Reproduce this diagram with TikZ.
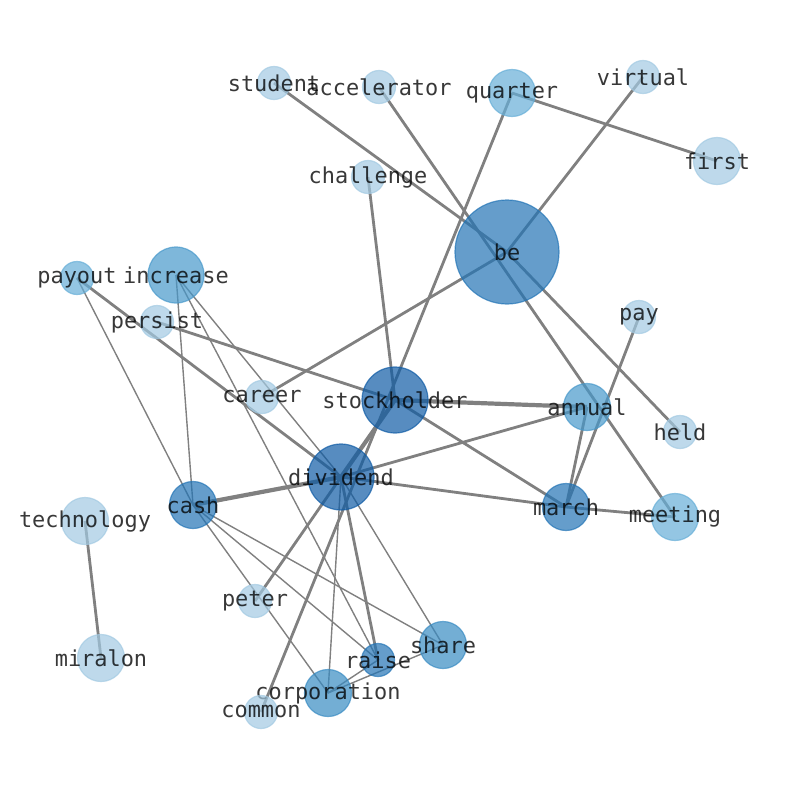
\documentclass[tikz,border=0pt]{standalone}
\usepackage{fontspec}
\setmonofont{DejaVu Sans Mono}
\usepackage{xcolor}
\definecolor{edgegray}{RGB}{128,128,128}
\definecolor{pale}{RGB}{162,201,226}
\definecolor{sky}{RGB}{102,174,215}
\definecolor{midblue}{RGB}{71,152,202}
\definecolor{deepblue}{RGB}{56,139,194}
\definecolor{darkblue}{RGB}{35,116,181}
\definecolor{navy}{RGB}{15,91,165}
\pgfdeclarelayer{background}
\pgfsetlayers{background,main}

\begin{document}
\begin{tikzpicture}[x=1bp,y=-1bp]
  \tikzset{vertex/.style={circle,inner sep=0pt,draw=#1,fill=#1,fill opacity=0.7,draw opacity=0.7,line width=1.2bp}}
  \tikzset{r16/.style={minimum size=33bp},r24/.style={minimum size=47bp},r28/.style={minimum size=56bp}}
  \tikzset{r33/.style={minimum size=66bp},r52/.style={minimum size=104bp}}
  \tikzset{every label/.style={font=\ttfamily\fontsize{22}{24}\selectfont,text=black,text opacity=0.78,inner sep=0pt}}
  \tikzset{link/.style={draw=edgegray,line width=2.8bp},thinlink/.style={link,line width=1.4bp},thicklink/.style={link,line width=4.2bp}}
  \useasboundingbox (0,0) rectangle (794,790);
  % words
  \node[vertex=pale,r16] (student) at (274,83) [label=center:student] {};
  \node[vertex=pale,r16] (accelerator) at (379,87) [label=center:accelerator] {};
  \node[vertex=sky,r24] (quarter) at (512,93) [label=center:quarter] {};
  \node[vertex=pale,r16] (virtual) at (643,77) [label=center:virtual] {};
  \node[vertex=pale,r24] (first) at (717,161) [label=center:first] {};
  \node[vertex=pale,r16] (challenge) at (368,177) [label=center:challenge] {};
  \node[vertex=darkblue,r52] (be) at (507,252) [label=center:be] {};
  \node[vertex=sky,r16] (payout) at (77,278) [label=center:payout] {};
  \node[vertex=midblue,r28] (increase) at (176,275) [label=center:increase] {};
  \node[vertex=pale,r16] (persist) at (157,322) [label=center:persist] {};
  \node[vertex=pale,r16] (pay) at (639,317) [label=center:pay] {};
  \node[vertex=pale,r16] (career) at (262,397) [label=center:career] {};
  \node[vertex=navy,r33] (stockholder) at (395,400) [label=center:stockholder] {};
  \node[vertex=midblue,r24] (annual) at (587,407) [label=center:annual] {};
  \node[vertex=pale,r16] (held) at (680,432) [label=center:held] {};
  \node[vertex=navy,r33] (dividend) at (341,477) [label=center:dividend] {};
  \node[vertex=darkblue,r24] (cash) at (193,505) [label=center:cash] {};
  \node[vertex=darkblue,r24] (march) at (566,507) [label=center:march] {};
  \node[vertex=sky,r24] (meeting) at (675,517) [label=center:meeting] {};
  \node[vertex=pale,r24] (technology) at (85,521) [label=center:technology] {};
  \node[vertex=pale,r16] (peter) at (255,601) [label=center:peter] {};
  \node[vertex=pale,r24] (miralon) at (101,658) [label=center:miralon] {};
  \node[vertex=deepblue,r24] (share) at (443,645) [label=center:share] {};
  \node[vertex=darkblue,r16] (raise) at (378,660) [label=center:raise] {};
  \node[vertex=deepblue,r24] (corporation) at (328,693) [label=center:corporation] {};
  \node[vertex=pale,r16] (common) at (261,712) [label=center:common] {};
  % edges
  \begin{pgfonlayer}{background}
    \draw[link] (student.center)--(be.center);
    \draw[link] (accelerator.center)--(meeting.center);
    \draw[link] (quarter.center)--(first.center);
    \draw[link] (quarter.center)--(common.center);
    \draw[link] (virtual.center)--(be.center);
    \draw[link] (challenge.center)--(stockholder.center);
    \draw[link] (be.center)--(career.center);
    \draw[link] (be.center)--(held.center);
    \draw[link] (payout.center)--(dividend.center);
    \draw[link] (persist.center)--(stockholder.center);
    \draw[link] (pay.center)--(march.center);
    \draw[link] (stockholder.center)--(march.center);
    \draw[thicklink] (stockholder.center)--(annual.center);
    \draw[thicklink] (stockholder.center)--(dividend.center);
    \draw[thicklink] (cash.center)--(dividend.center);
    \draw[link] (dividend.center)--(annual.center);
    \draw[link] (dividend.center)--(march.center);
    \draw[link] (dividend.center)--(peter.center);
    \draw[link] (dividend.center)--(raise.center);
    \draw[link] (annual.center)--(march.center);
    \draw[link] (march.center)--(meeting.center);
    \draw[link] (technology.center)--(miralon.center);
    \draw[thinlink] (payout.center)--(cash.center);
    \draw[thinlink] (increase.center)--(cash.center);
    \draw[thinlink] (increase.center)--(raise.center);
    \draw[thinlink] (increase.center)--(dividend.center);
    \draw[thinlink] (cash.center)--(corporation.center);
    \draw[thinlink] (cash.center)--(raise.center);
    \draw[thinlink] (cash.center)--(share.center);
    \draw[thinlink] (dividend.center)--(share.center);
    \draw[thinlink] (dividend.center)--(corporation.center);
    \draw[thinlink] (corporation.center)--(raise.center);
    \draw[thinlink] (corporation.center)--(share.center);
  \end{pgfonlayer}
\end{tikzpicture}
\end{document}
